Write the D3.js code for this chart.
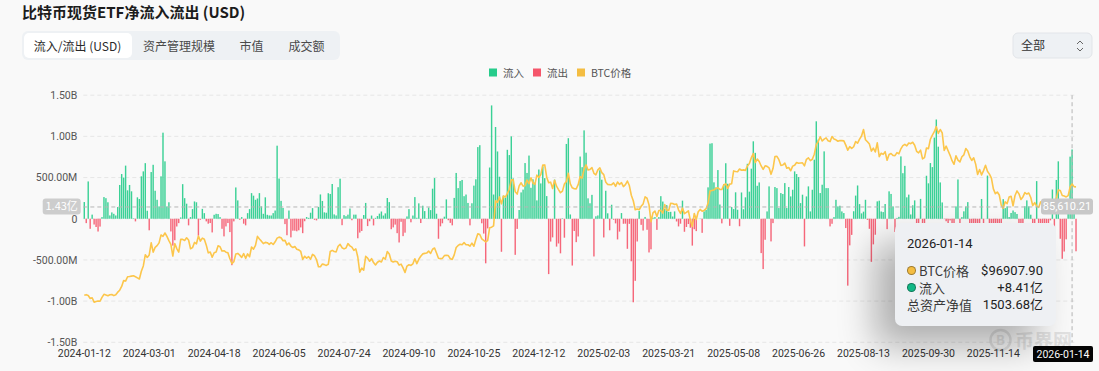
<!DOCTYPE html>
<html>
<head>
<meta charset="utf-8">
<script src="https://d3js.org/d3.v7.min.js"></script>
<style>
  body { margin: 0; background: #f9f9f9; font-family: "Noto Sans CJK SC", "Noto Sans", sans-serif; }
  #wrap { position: relative; width: 1099px; height: 371px; overflow: hidden; }
  #tip {
    position: absolute; left: 895px; top: 223px; width: 161px; height: 103px;
    box-sizing: border-box; padding: 12px 13px 0 12px;
    background: #eef0f3; border-radius: 7px;
    box-shadow: -20px 20px 36px rgba(0,0,0,0.30);
    font-size: 13px; color: #3a3a3a;
  }
  #tip .tdate { font-family: Roboto, sans-serif; font-size: 13px; color: #222; line-height: 18px; margin-bottom: 9px; }
  #tip .row { display: flex; justify-content: space-between; align-items: center; height: 17px; line-height: 17px; }
  #tip .lab { display: flex; align-items: center; }
  #tip .dot { width: 7px; height: 7px; border-radius: 50%; margin-right: 3px; border: 1px solid rgba(0,0,0,0.35); }
  #tip .val { font-family: Roboto, "Noto Sans CJK SC", sans-serif; color: #222; }
</style>
</head>
<body>
<div id="wrap">
  <svg id="chart" width="1099" height="371"></svg>
  <div id="tip"></div>
</div>
<script>
// trading-day calendar (US market), first and last day shown
const startDay = '2024-01-12', endDay = '2026-01-16';
const holidays = ['2024-01-15','2024-02-19','2024-03-29','2024-05-27','2024-06-19','2024-07-04',
  '2024-09-02','2024-11-28','2024-12-25','2025-01-01','2025-01-09','2025-01-20','2025-02-17',
  '2025-04-18','2025-05-26','2025-06-19','2025-07-04','2025-09-01','2025-11-27','2025-12-25','2026-01-01'];

// daily net flow, million USD
const flows2024 = [
  203,-53,453,-122,50,-70,-100,-155,-95,20,263,250,200,
  40,77,60,40,142,410,543,500,645,345,410,333,5,-32,260,240,515,575,675,97,
  -140,567,655,340,230,150,515,1045,697,150,200,-154,-326,-261,-94,-53,16,420,250,183,
  -80,20,117,210,200,-205,-12,120,68,-32,-60,-52,-166,48,60,57,20,-122,-214,-93,-52,-162,
  -564,-32,380,223,-12,20,-60,-80,68,117,311,280,230,246,311,150,60,260,48,40,40,68,
  100,887,488,217,131,-65,-200,100,-226,-145,-145,-152,-140,-105,-175,-30,21,11,73,
  129,-13,-20,143,295,216,78,73,310,301,422,53,40,383,486,-78,44,31,50,124,-18,50,
  50,-237,-168,-148,45,192,-89,-30,39,-81,11,33,62,88,39,65,252,202,-127,-105,-71,-175,
  -288,-37,-211,-169,28,117,-43,39,263,12,187,-52,158,93,4,136,105,365,494,61,
  -243,-92,-55,25,235,-18,-50,-80,253,556,372,458,471,274,294,192,-80,188,402,479,870,893,-55,
  -180,-541,-117,622,1376,294,1114,817,510,-401,280,255,837,773,1000,490,-438,-123,106,320,
  354,676,556,767,376,479,439,223,598,429,637,493,275,-672,-277,-226,475,-338,-300,-420,5
];
const flows2025 = [
  -230,908,978,52,-568,-149,-284,-215,755,626,1073,802,248,188,290,-458,30,40,588,474,
  -227,340,66,-140,170,-12,-56,-251,-156,69,-61,-60,-365,-62,-516,-1014,-754,-276,94,
  -74,-143,22,-134,-409,-371,13,20,-135,20,274,209,120,165,83,84,27,89,-33,-93,-60,
  220,-158,-100,-64,-109,-326,-127,-150,1,2,-171,89,107,381,912,917,442,380,591,173,-56,
  422,674,425,-86,142,117,321,109,-91,319,115,260,667,329,608,940,800,400,441,-417,-611,
  -255,89,393,-275,-53,385,372,130,312,300,433,130,385,271,352,575,543,506,190,292,
  -336,271,393,89,352,717,1183,960,312,413,818,372,372,-93,-61,20,230,150,158,89,69,-113,
  -812,-323,-196,91,281,404,178,65,86,230,-14,-122,-523,-311,-194,211,219,88,81,179,-126,
  333,301,150,-160,10,23,757,553,642,260,293,52,163,223,-363,-104,241,-258,-418,522,430,
  676,627,985,1205,875,441,198,-4,-30,-93,-20,-536,-366,150,477,-101,20,90,149,202,-470,-488,-191,
  -187,-578,-137,240,-558,1,524,-278,-867,-492,-255,-373,-372,-903,238,129,150,21,70,
  100,80,58,-195,-60,-61,152,223,150,49,-357,-277,457,-161,-158,-142,-189,-175,-276,-19,355,-348
];
const flows2026 = [471,697,-243,-486,-398,-250,117,754,841,100,-395];

// BTC price, USD
const prices2024 = [
  42850,43140,42740,41260,41620,39510,39840,40080,39940,41820,43300,42940,42580,
  43080,43190,42660,43090,44340,45290,47150,49960,49730,51830,51940,52140,52280,51860,51300,50730,54520,57090,62500,61200,
  62400,68330,63800,66110,66930,68300,72120,71480,73080,71400,69400,67610,61900,67910,65500,63780,69960,69990,69460,70740,
  69700,65450,65980,68510,67840,71630,69140,70590,70060,67190,63430,63810,61280,63510,63840,66840,66410,64300,64480,63770,63430,60610,
  58250,59120,62890,63160,62330,61190,63070,60790,62930,61550,66270,65230,67050,71450,70140,69120,67930,68530,68360,67580,68360,67490,
  68810,70570,71080,70760,69340,69510,67320,68240,66760,66010,66490,65170,64880,64100,60280,61800,60860,61610,60320,
  62680,62030,60200,56660,56710,58050,57720,57340,57890,64100,64630,64090,63930,66650,67580,65930,65370,65800,67910,66820,66200,64620,
  65360,61420,54020,56030,55030,61710,60880,59350,60610,58740,57560,58870,59490,59010,61180,60380,64090,62880,59500,59030,59390,59120,
  57480,57970,56160,53950,57020,57650,57340,58130,60570,58210,60310,61760,62940,63190,63330,64300,63140,65180,65790,63330,
  60840,60630,60750,62090,62250,62130,60580,60270,62450,66050,67040,67610,67400,68420,67370,67380,66680,68190,66640,69910,72720,72340,70220,
  69490,68780,69360,75640,75900,76540,88700,87960,90590,87250,91070,90540,92330,94340,98870,98920,93100,91970,95960,97460,
  95840,96000,98770,97030,99920,97370,96680,101170,100040,101460,106060,106140,100200,97460,97780,94690,98680,95800,94160,92640,93430
];
const prices2025 = [
  96890,98110,102080,96920,95040,94560,94520,96530,100500,99760,104080,106150,103650,103960,104820,102080,101340,103730,104730,102410,
  101410,97870,96620,96560,96530,97400,95750,97840,96620,97510,95610,96550,98330,96130,91420,88740,84350,84700,84370,
  86040,87220,90620,89960,86740,78530,82860,83720,81070,83970,84070,82720,86850,84170,84040,87500,87420,86900,87180,84350,82550,
  85160,82490,83100,83840,79230,76270,82570,79630,83400,84540,83620,84030,84900,87520,93440,93700,93980,94720,95030,94260,94170,
  96490,96910,94750,96830,97030,103240,102970,102810,104170,103540,103740,103490,105620,106780,109670,111670,107290,108990,107800,105640,103980,
  105700,105430,104730,101580,104390,110260,110270,108690,105930,106080,107030,104580,104880,103310,105560,106000,107340,106950,107110,107140,
  105700,108860,109580,108230,108900,111330,115990,117520,119840,117740,118690,119270,117920,117440,119950,118750,118340,117640,118010,117920,117840,115760,
  113300,115020,114140,114960,117500,116690,118690,120170,123340,118360,117400,116250,112870,114270,112420,116870,110120,111800,111260,112560,108400,
  111240,111700,110720,110650,112100,111540,113960,115500,116100,115390,116790,116470,117140,115700,112750,112010,113330,109050,109700,114360,114060,
  118600,120650,122270,124720,121450,123350,121710,113220,115270,113030,110800,108190,106460,110590,108480,107610,110090,111050,114110,112950,110050,108310,109600,
  106530,101500,103890,101300,103370,105940,103040,101660,99700,94500,92180,92960,91520,86630,85090,88270,87340,90520,90930,
  86300,91300,93500,92100,89400,90600,92700,92000,92500,90300,86400,87800,86100,85500,88100,88500,87400,87600,87300,87100,88400,87500
];
const prices2026 = [89900,93900,93700,91300,91000,90600,91200,95400,96907.9,95600,95500];

const flowTicks = [-1500, -1000, -500, 0, 500, 1000, 1500];
const tabs = ['流入/流出 (USD)', '资产管理规模', '市值', '成交额'];
const legendItems = ['流入', '流出', 'BTC价格'];

// hovered day shown in the tooltip / axis pointer
const hoverDate = '2026-01-14';
const hoverAum = 1503.68;          // 总资产净值, 亿
const pointerLabels = ['1.43亿', '85,610.21'];
const pointerFlow = 143;           // M, height of horizontal pointer

const dates = [];
for (let t = Date.parse(startDay); t <= Date.parse(endDay); t += 864e5) {
  const d = new Date(t), s = d.toISOString().slice(0, 10), wd = d.getUTCDay();
  if (wd !== 0 && wd !== 6 && !holidays.includes(s)) dates.push(s);
}
const flows = flows2024.concat(flows2025, flows2026);
const prices = prices2024.concat(prices2025, prices2026);
const data = dates.map((d, i) => ({ date: d, flow: flows[i], price: prices[i] }));
if (flows.length !== dates.length || prices.length !== dates.length)
  console.error('length mismatch', dates.length, flows.length, prices.length);

const green = '#26cc8b', red = '#f5566b', gold = '#f4bd42', lineColor = '#fcc64b';

const svg = d3.select('#chart');

// header
svg.append('text').attr('x', 22).attr('y', 18)
  .attr('font-size', 15).attr('font-weight', 700).attr('fill', '#1c1c1c')
  .text('比特币现货ETF净流入流出 (USD)');

svg.append('rect').attr('x', 22).attr('y', 31).attr('width', 318).attr('height', 29)
  .attr('rx', 6).attr('fill', '#eef1f4');
svg.append('rect').attr('x', 24).attr('y', 33).attr('width', 108).attr('height', 25)
  .attr('rx', 5).attr('fill', '#fff');
const tabX = [77.5, 179, 251.5, 306.5];
svg.selectAll('.tab').data(tabs).enter().append('text')
  .attr('x', (d, i) => tabX[i]).attr('y', 50.5)
  .attr('text-anchor', 'middle').attr('font-size', 12)
  .attr('fill', (d, i) => i === 0 ? '#2a2a2a' : '#4a4a4a')
  .text(d => d);

// range dropdown
svg.append('rect').attr('x', 1013).attr('y', 33).attr('width', 79).attr('height', 25)
  .attr('rx', 5).attr('fill', '#eef1f4').attr('stroke', '#e2e5e9');
svg.append('text').attr('x', 1021).attr('y', 50).attr('font-size', 12).attr('fill', '#333').text('全部');
svg.append('path').attr('d', 'M1077,44 L1080,41 L1083,44 M1077,48 L1080,51 L1083,48')
  .attr('fill', 'none').attr('stroke', '#666').attr('stroke-width', 1);

// legend
const legX = [489, 533, 577];
const legColors = [green, red, gold];
const leg = svg.selectAll('.leg').data(legendItems).enter().append('g');
leg.append('rect').attr('x', (d, i) => legX[i]).attr('y', 68.5).attr('width', 8).attr('height', 8)
  .attr('fill', (d, i) => legColors[i]);
leg.append('text').attr('x', (d, i) => legX[i] + 14).attr('y', 76.5)
  .attr('font-size', 10.5).attr('fill', '#555').text(d => d);

// scales
const plotL = 83.3, plotR = 1077, plotT = 95.2, plotB = 342.3;
const x = d3.scaleBand().domain(dates).range([plotL, plotR]).paddingInner(0.28).paddingOuter(0.14);
const y = d3.scaleLinear().domain([-1500, 1500]).range([plotB, plotT]);
const yPrice = d3.scaleLinear().domain([20000, 140000]).range([plotB, plotT]);
const cx = d => x(d) + x.bandwidth() / 2;

// grid
svg.append('g').selectAll('line').data(flowTicks).enter().append('line')
  .attr('x1', plotL).attr('x2', plotR)
  .attr('y1', d => y(d)).attr('y2', d => y(d))
  .attr('stroke', '#e6e6e6').attr('stroke-dasharray', '4,3');

// y labels
const fmt = v => v === 0 ? '0' : Math.abs(v) >= 1000 ? (v / 1000).toFixed(2) + 'B' : v.toFixed(2) + 'M';
const yAxis = svg.append('g').attr('transform', `translate(${plotL - 6},0)`)
  .call(d3.axisLeft(y).tickValues(flowTicks).tickFormat(fmt).tickSize(0).tickPadding(0));
yAxis.select('.domain').remove();
yAxis.selectAll('text').attr('font-family', 'Roboto, sans-serif').attr('font-size', 10.5).attr('fill', '#555');

// watermark
const wm = svg.append('g').attr('opacity', 0.55);
wm.append('circle').attr('cx', 1000.5).attr('cy', 340).attr('r', 10).attr('fill', 'none')
  .attr('stroke', '#cfcfcf').attr('stroke-width', 2.5);
wm.append('text').attr('x', 1000.5).attr('y', 345).attr('text-anchor', 'middle')
  .attr('font-size', 13).attr('font-weight', 700).attr('fill', '#cfcfcf').text('B');
wm.append('text').attr('x', 1015).attr('y', 348).attr('font-size', 19).attr('font-weight', 700)
  .attr('fill', '#cfcfcf').text('币界网');

// x labels
const xTicks = dates.filter((d, i) => i % 33 === 0 && i <= 462);
const xAxis = svg.append('g').attr('transform', `translate(0,${plotB})`)
  .call(d3.axisBottom(x).tickValues(xTicks).tickSize(0).tickPadding(7));
xAxis.select('.domain').remove();
xAxis.selectAll('text').attr('font-family', 'Roboto, sans-serif').attr('font-size', 10.5).attr('fill', '#333');

// bars
svg.append('g').selectAll('rect').data(data).enter().append('rect')
  .attr('x', d => x(d.date)).attr('width', x.bandwidth())
  .attr('y', d => Math.min(y(d.flow), y(0)))
  .attr('height', d => Math.abs(y(d.flow) - y(0)))
  .attr('fill', d => d.flow >= 0 ? green : red)
  .attr('fill-opacity', 0.9);

// price line
svg.append('path').datum(data)
  .attr('d', d3.line().x(d => cx(d.date)).y(d => yPrice(d.price)))
  .attr('fill', 'none').attr('stroke', lineColor).attr('stroke-width', 1.6)
  .attr('stroke-linejoin', 'round');

// axis pointer
const hi = dates.indexOf(hoverDate);
const py = y(pointerFlow);
svg.append('line').attr('x1', cx(hoverDate)).attr('x2', cx(hoverDate)).attr('y1', plotT).attr('y2', plotB)
  .attr('stroke', '#b5b5b5').attr('stroke-dasharray', '4,3');
svg.append('line').attr('x1', plotL).attr('x2', plotR).attr('y1', py).attr('y2', py)
  .attr('stroke', '#b5b5b5').attr('stroke-dasharray', '4,3');

const pl = svg.append('g');
pl.append('rect').attr('x', 42.7).attr('y', py - 8.5).attr('width', 38).attr('height', 16).attr('rx', 3).attr('fill', '#cdcdcd');
pl.append('text').attr('x', 61.7).attr('y', py + 3.5).attr('text-anchor', 'middle')
  .attr('font-size', 11).attr('fill', '#fff').text(pointerLabels[0]);
pl.append('rect').attr('x', 1041).attr('y', py - 8.5).attr('width', 52).attr('height', 16).attr('rx', 3).attr('fill', '#c8c8c8');
pl.append('text').attr('x', 1067).attr('y', py + 3.5).attr('text-anchor', 'middle')
  .attr('font-family', 'Roboto, sans-serif').attr('font-size', 11).attr('fill', '#fff').text(pointerLabels[1]);

pl.append('rect').attr('x', 1033).attr('y', 346).attr('width', 60).attr('height', 16).attr('rx', 2).attr('fill', '#050505');
pl.append('text').attr('x', 1063).attr('y', 358).attr('text-anchor', 'middle')
  .attr('font-family', 'Roboto, sans-serif').attr('font-size', 10.5).attr('fill', '#fff').text(hoverDate);

// tooltip
const tip = d3.select('#tip');
tip.append('div').attr('class', 'tdate').text(hoverDate);
const f = flows[hi];
const rows = [
  { dot: gold, label: 'BTC价格', value: '$' + prices[hi].toFixed(2) },
  { dot: f >= 0 ? '#12b886' : red, label: f >= 0 ? '流入' : '流出', value: (f >= 0 ? '+' : '') + (f / 100).toFixed(2) + '亿' },
  { dot: null, label: '总资产净值', value: hoverAum.toFixed(2) + '亿' }
];
const r = tip.selectAll('.row').data(rows).enter().append('div').attr('class', 'row');
const lab = r.append('div').attr('class', 'lab');
lab.filter(d => d.dot).append('span').attr('class', 'dot').style('background', d => d.dot);
lab.append('span').text(d => d.label);
r.append('div').attr('class', 'val').text(d => d.value);
</script>
</body>
</html>
